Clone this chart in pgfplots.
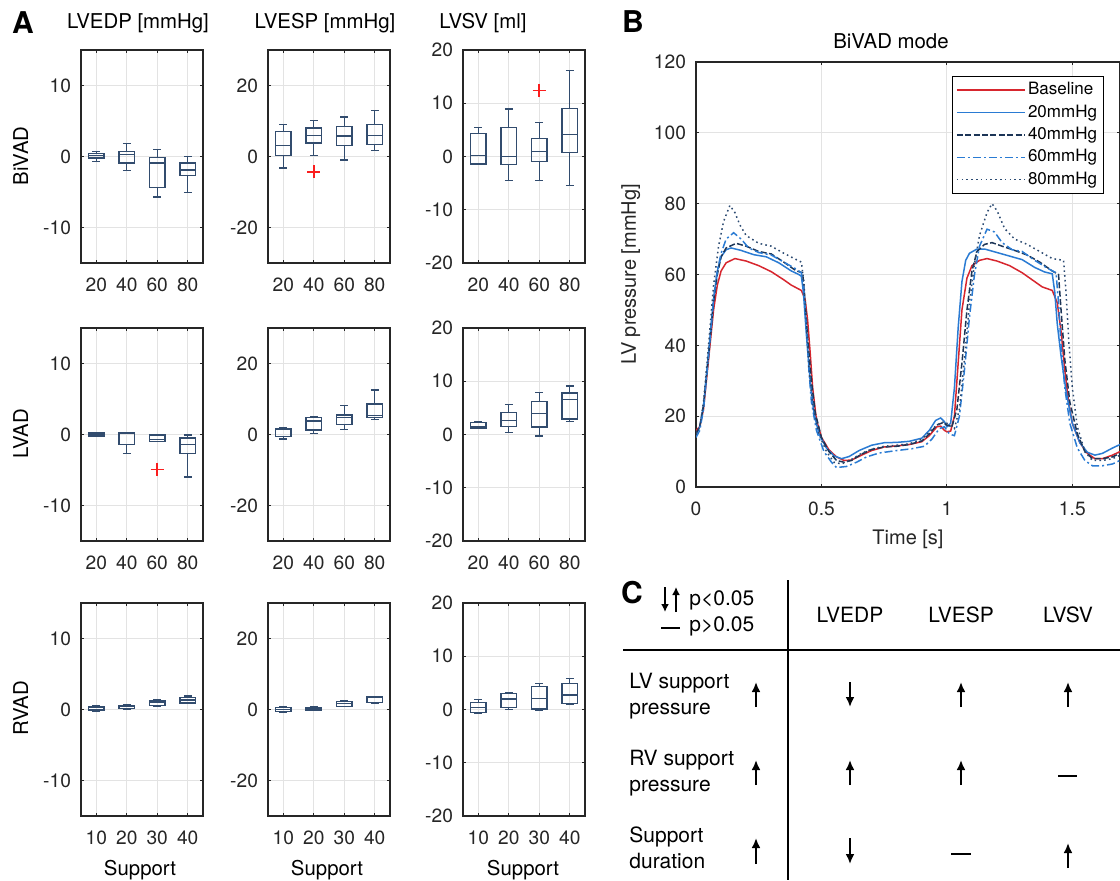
\documentclass[border=0pt]{standalone}
\usepackage{fontspec}
\setmainfont{TeX Gyre Heros}
\usepackage{pgfplots}
\pgfplotsset{compat=1.18}
\usepgfplotslibrary{statistics}
\usetikzlibrary{arrows.meta}

\definecolor{boxc}{RGB}{50,76,110}
\definecolor{outc}{RGB}{250,30,30}
\definecolor{axc}{HTML}{262626}
\definecolor{gridc}{HTML}{E3E3E3}
\definecolor{cRed}{HTML}{D7262E}
\definecolor{cBlue}{HTML}{2A7BD3}
\definecolor{cNavy}{HTML}{1C3557}
\definecolor{cNavyB}{HTML}{2C4B72}

\pgfplotsset{
  mlab/.style={
    scale only axis,
    axis line style={draw=axc, line width=0.6pt},
    tick align=inside,
    xtick pos=both, ytick pos=both,
    major tick length=1.6pt,
    tick style={draw=axc, line width=0.5pt},
    grid=major,
    major grid style={draw=gridc, line width=0.5pt},
    tick label style={font=\fontsize{9.6}{11}\selectfont, text=axc},
    /pgf/number format/assume math mode=true,
    yticklabel style={xshift=-1.5pt},
    xticklabel style={yshift=-4pt},
  },
  boxpanel/.style={
    mlab, width=61pt, height=106.5pt, anchor=north west,
    xmin=0.5, xmax=4.5, xtick={1,2,3,4},
    boxplot/draw direction=y,
    boxplot/box extend=0.5,
    boxplot/whisker extend=0.25,
  },
  outlier/.style={color=outc, only marks, mark=+, mark size=3.3pt, line width=0.8pt,
    mark options={solid, color=outc, draw=outc, fill=outc}},
}
% draw position, lower whisker, lower quartile, median, upper quartile, upper whisker
\newcommand{\bx}[6]{\addplot[draw=boxc, line width=0.65pt, solid, mark=none,
  boxplot prepared={draw position=#1, lower whisker=#2, lower quartile=#3,
  median=#4, upper quartile=#5, upper whisker=#6}] coordinates {};}

\begin{document}
\begin{tikzpicture}
\path[use as bounding box] (0,0) rectangle (560pt,-440pt);

% ---- row 1: BiVAD
\begin{axis}[boxpanel, at={(40.5pt,-25pt)}, ymin=-15, ymax=15, ytick={-10,0,10}, xticklabels={20,40,60,80}]
  \bx{1}{-0.7}{-0.2}{0.1}{0.4}{0.7}
  \bx{2}{-2.0}{-0.9}{0.3}{0.7}{1.8}
  \bx{3}{-5.7}{-4.4}{-0.9}{-0.1}{1.0}
  \bx{4}{-5.1}{-2.7}{-1.9}{-0.9}{0.0}
\end{axis}
\begin{axis}[boxpanel, at={(134pt,-25pt)}, ymin=-30, ymax=30, ytick={-20,0,20}, xticklabels={20,40,60,80}]
  \bx{1}{-3.2}{0.3}{3.1}{7.1}{9.0}
  \bx{2}{0.3}{3.8}{5.9}{8.0}{10.1}
  \bx{3}{-1.0}{3.1}{5.8}{8.5}{11.1}
  \bx{4}{1.6}{3.3}{6.0}{9.0}{13.0}
  \addplot[outlier] coordinates {(2,-4.3)};
\end{axis}
\begin{axis}[boxpanel, at={(231.5pt,-25pt)}, ymin=-20, ymax=20, ytick={-20,-10,0,10,20}, xticklabels={20,40,60,80}]
  \bx{1}{-1.4}{-1.4}{0.25}{4.3}{5.5}
  \bx{2}{-4.5}{-1.5}{0.06}{5.4}{8.9}
  \bx{3}{-4.5}{-0.9}{1.0}{3.4}{6.4}
  \bx{4}{-5.5}{0.8}{4.1}{9.0}{16.2}
  \addplot[outlier] coordinates {(3,12.4)};
\end{axis}

% ---- row 2: LVAD
\begin{axis}[boxpanel, at={(40.5pt,-164pt)}, ymin=-15, ymax=15, ytick={-10,0,10}, xticklabels={20,40,60,80}]
  \bx{1}{-0.3}{-0.2}{0.05}{0.2}{0.23}
  \bx{2}{-2.7}{-1.4}{0.15}{0.2}{0.2}
  \bx{3}{-1.0}{-1.0}{-0.7}{-0.05}{0.05}
  \bx{4}{-6.0}{-2.7}{-1.4}{-0.5}{-0.05}
  \addplot[outlier] coordinates {(3,-4.9)};
\end{axis}
\begin{axis}[boxpanel, at={(134pt,-164pt)}, ymin=-30, ymax=30, ytick={-20,0,20}, xticklabels={20,40,60,80}]
  \bx{1}{-1.3}{-0.6}{1.4}{1.7}{1.8}
  \bx{2}{0.2}{1.3}{3.8}{4.7}{4.9}
  \bx{3}{1.5}{2.8}{4.7}{5.5}{8.1}
  \bx{4}{4.3}{4.7}{5.3}{8.6}{12.5}
\end{axis}
\begin{axis}[boxpanel, at={(231.5pt,-164pt)}, ymin=-20, ymax=20, ytick={-20,-10,0,10,20}, xticklabels={20,40,60,80}]
  \bx{1}{1.1}{1.2}{1.4}{2.3}{2.5}
  \bx{2}{0.4}{1.5}{2.6}{4.1}{5.7}
  \bx{3}{-0.3}{1.4}{3.9}{6.2}{7.9}
  \bx{4}{2.5}{2.9}{6.6}{7.8}{9.1}
\end{axis}

% ---- row 3: RVAD
\begin{axis}[boxpanel, at={(40.5pt,-301.5pt)}, ymin=-15, ymax=15, ytick={-10,0,10}, xticklabels={10,20,30,40}]
  \bx{1}{-0.28}{-0.05}{0.28}{0.47}{0.56}
  \bx{2}{0.05}{0.14}{0.42}{0.6}{0.7}
  \bx{3}{0.5}{0.56}{1.0}{1.2}{1.4}
  \bx{4}{0.85}{0.9}{1.35}{1.7}{1.9}
\end{axis}
\begin{axis}[boxpanel, at={(134pt,-301.5pt)}, ymin=-30, ymax=30, ytick={-20,0,20}, xticklabels={10,20,30,40}]
  \bx{1}{-0.9}{-0.65}{0.1}{0.56}{0.84}
  \bx{2}{-0.2}{-0.1}{0.4}{0.65}{0.9}
  \bx{3}{0.75}{0.9}{1.7}{2.3}{2.6}
  \bx{4}{1.6}{2.0}{3.4}{3.6}{3.7}
\end{axis}
\begin{axis}[boxpanel, at={(231.5pt,-301.5pt)}, ymin=-20, ymax=20, ytick={-20,-10,0,10,20}, xticklabels={10,20,30,40}]
  \bx{1}{-0.8}{-0.6}{0.4}{1.3}{1.9}
  \bx{2}{0.0}{0.4}{2.0}{3.0}{3.2}
  \bx{3}{-0.25}{0.1}{2.1}{4.3}{4.9}
  \bx{4}{1.0}{1.1}{2.7}{4.9}{5.8}
\end{axis}

% ---- panel B
\begin{axis}[mlab, at={(348pt,-31pt)}, anchor=north west, width=212pt, height=212.5pt,
  xmin=0, xmax=1.69, ymin=0, ymax=120,
  xtick={0,0.5,1,1.5}, ytick={0,20,...,120},
  xlabel={Time [s]}, ylabel={LV pressure [mmHg]},
  label style={font=\fontsize{10}{12}\selectfont, text=axc},
  legend cell align=left,
  legend image code/.code={\draw[#1] (-2pt,0pt) -- (32pt,0pt);},
  legend style={at={(0.962,0.967)}, anchor=north east, draw=black, line width=0.5pt,
    fill=white, font=\fontsize{8.5}{10}\selectfont, inner xsep=2pt, inner ysep=1.5pt,
    row sep=0.6pt, nodes={inner sep=1.2pt, text height=6.4pt, text depth=1.8pt}},
  every axis plot/.append style={line width=0.75pt},
]
\addplot[cRed] coordinates {(0,16)(0.015,17)(0.03,22)(0.05,36)(0.07,50)(0.085,57)(0.1,61)(0.12,63.3)(0.155,64.5)(0.2,63.8)(0.25,62.5)(0.3,60.8)(0.35,58.5)(0.38,57)(0.42,55.5)(0.435,53)(0.445,47)(0.455,38)(0.465,28)(0.48,19)(0.5,14)(0.53,10.5)(0.56,8.5)(0.59,7.5)(0.62,7.6)(0.66,9)(0.7,10.3)(0.75,11.3)(0.8,11.6)(0.85,12)(0.9,12.8)(0.93,14.5)(0.96,17)(0.975,17.2)(0.99,16)(1.0,15.6)(1.015,15.8)(1.03,20)(1.045,35)(1.06,50)(1.08,59)(1.1,62.5)(1.13,64)(1.16,64.5)(1.2,63.8)(1.25,62.5)(1.3,60.5)(1.35,58)(1.38,56.5)(1.42,55.5)(1.44,52)(1.455,44)(1.47,33)(1.485,24)(1.5,18)(1.53,12.5)(1.56,9.5)(1.59,8)(1.62,8)(1.66,9)(1.69,10)};
\addlegendentry{Baseline}
\addplot[cBlue] coordinates {(0,15)(0.015,17)(0.03,23)(0.05,38)(0.07,53)(0.085,61)(0.1,65)(0.12,67)(0.14,67.5)(0.18,66.8)(0.23,65.6)(0.28,65)(0.33,63.3)(0.38,61)(0.41,60)(0.42,59.5)(0.428,55)(0.44,43)(0.455,30)(0.47,21)(0.49,15)(0.52,11)(0.55,8.8)(0.58,8)(0.61,8.6)(0.65,10.3)(0.7,11.8)(0.75,12.5)(0.8,12.6)(0.85,12.9)(0.9,13.8)(0.93,16)(0.955,18.8)(0.975,19.5)(0.99,18.5)(1.0,17)(1.015,18)(1.03,28)(1.045,45)(1.06,58)(1.075,64)(1.09,66)(1.12,67.2)(1.15,67.2)(1.2,66.2)(1.25,65.2)(1.3,64.2)(1.35,62)(1.39,60.7)(1.42,60.2)(1.43,55)(1.44,46)(1.455,37)(1.475,27)(1.5,18)(1.53,12.5)(1.56,9.8)(1.59,9)(1.62,9.5)(1.66,11)(1.69,12)};
\addlegendentry{20mmHg}
\addplot[cNavy, dash pattern=on 3pt off 1.2pt] coordinates {(0,15)(0.015,17)(0.03,23)(0.05,37)(0.07,52)(0.085,60)(0.1,65)(0.12,67.5)(0.16,68.8)(0.2,68)(0.25,66.5)(0.3,65.8)(0.35,63.5)(0.4,61)(0.425,60.5)(0.435,52)(0.445,42)(0.46,30)(0.475,21)(0.5,14)(0.53,10)(0.56,7.5)(0.59,7)(0.62,7.5)(0.66,9.3)(0.7,10.6)(0.75,11.3)(0.8,11.5)(0.85,12)(0.9,13)(0.93,15)(0.96,17.5)(0.985,18.2)(1.0,17.5)(1.02,17)(1.04,22)(1.06,35)(1.08,50)(1.1,61)(1.12,66.5)(1.15,68.5)(1.18,69)(1.22,68)(1.27,66.8)(1.32,65.5)(1.37,63.5)(1.42,61)(1.445,60)(1.455,50)(1.47,36)(1.49,24)(1.52,15)(1.55,10)(1.58,8)(1.62,8)(1.66,8.5)(1.69,9.5)};
\addlegendentry{40mmHg}
\addplot[cBlue, dash pattern=on 4pt off 1.5pt on 1pt off 1.5pt] coordinates {(0,14)(0.015,16)(0.03,22)(0.05,37)(0.07,53)(0.085,61)(0.1,66)(0.12,70)(0.15,71.8)(0.18,70)(0.21,67.5)(0.25,66.2)(0.3,65.5)(0.35,63.5)(0.4,61.5)(0.42,60.5)(0.43,56)(0.44,45)(0.45,33)(0.46,24)(0.48,16)(0.51,10)(0.54,7)(0.56,5.5)(0.6,5.8)(0.64,7)(0.68,8.5)(0.73,9.6)(0.8,10.3)(0.86,10.8)(0.91,11.5)(0.94,13.5)(0.97,16.5)(0.99,17)(1.01,15)(1.03,14.5)(1.05,20)(1.07,33)(1.09,48)(1.11,60)(1.13,68)(1.16,72.8)(1.19,72)(1.22,69)(1.26,67)(1.3,66.5)(1.35,64)(1.4,61.8)(1.435,60.5)(1.445,52)(1.455,40)(1.47,28)(1.49,18)(1.52,11)(1.55,7.5)(1.58,6)(1.62,6)(1.66,6.5)(1.69,7.5)};
\addlegendentry{60mmHg}
\addplot[cNavyB, dash pattern=on 0.8pt off 1.6pt] coordinates {(0,15)(0.015,17)(0.03,24)(0.05,40)(0.07,57)(0.09,68)(0.11,75)(0.135,79.5)(0.155,77.5)(0.175,74)(0.2,71)(0.25,68.8)(0.3,68)(0.35,66)(0.4,64.2)(0.42,63.5)(0.43,58)(0.44,46)(0.45,34)(0.465,23)(0.49,15)(0.52,10)(0.55,7)(0.58,6.5)(0.62,7.8)(0.66,9.5)(0.7,10.7)(0.75,11.5)(0.8,11.8)(0.85,12.2)(0.9,13.5)(0.93,15.5)(0.96,17.5)(0.99,18.5)(1.01,17.5)(1.03,16.5)(1.05,22)(1.07,36)(1.09,52)(1.11,63)(1.13,71)(1.16,77.5)(1.18,80)(1.2,78)(1.23,73)(1.27,70)(1.32,68.5)(1.37,66.5)(1.42,64.5)(1.465,64)(1.475,55)(1.485,42)(1.5,28)(1.52,17)(1.55,10)(1.58,7.5)(1.62,7.5)(1.66,8)(1.69,9)};
\addlegendentry{80mmHg}
\end{axis}

% ---- texts and panel C, in image pixels
\begin{scope}[x=0.5pt, y=-0.5pt]
  \tikzset{lab/.style={font=\bfseries\fontsize{15}{18}\selectfont, anchor=base},
    ttl/.style={font=\fontsize{10.2}{12}\selectfont, anchor=base},
    tab/.style={font=\fontsize{10.5}{12.6}\selectfont},
    arr/.style={-{Latex[length=5pt,width=4.4pt]}, line width=0.9pt}}
  \node[lab] at (23,33) {A};
  \node[lab] at (633,32) {B};
  \node[lab] at (632,603) {C};
  \node[ttl] at (138,28) {LVEDP [mmHg]};
  \node[ttl] at (325,28) {LVESP [mmHg]};
  \node[ttl] at (483,28) {LVSV [ml]};
  \node[ttl, rotate=90] at (28,156) {BiVAD};
  \node[ttl, rotate=90] at (28,434) {LVAD};
  \node[ttl, rotate=90] at (28,708) {RVAD};
  \node[ttl] at (140,875) {Support};
  \node[ttl] at (327,875) {Support};
  \node[ttl] at (523,875) {Support};
  \node[ttl] at (891,48) {BiVAD mode};

  % panel C
  \draw[line width=0.6pt] (788,580) -- (788,880);
  \draw[line width=0.6pt] (623,650) -- (1120,650);
  \draw[-{Latex[length=4pt,width=4pt]}, line width=0.9pt] (665,587) -- (665,612);
  \draw[-{Latex[length=4pt,width=4pt]}, line width=0.9pt] (676,612) -- (676,587);
  \draw[line width=0.8pt] (661,628) -- (680,628);
  \node[tab, anchor=west, inner sep=0pt] at (689,600) {p<0.05};
  \node[tab, anchor=west, inner sep=0pt] at (689,626) {p>0.05};
  \node[tab] at (850,615) {LVEDP};
  \node[tab] at (961,615) {LVESP};
  \node[tab] at (1068,615) {LVSV};
  \node[tab, anchor=base west, inner sep=0pt] at (629,688) {LV support};
  \node[tab, anchor=base west, inner sep=0pt] at (629,714) {pressure};
  \node[tab, anchor=base west, inner sep=0pt] at (629,765) {RV support};
  \node[tab, anchor=base west, inner sep=0pt] at (629,791) {pressure};
  \node[tab, anchor=base west, inner sep=0pt] at (629,842) {Support};
  \node[tab, anchor=base west, inner sep=0pt] at (629,868) {duration};
  % row 1
  \draw[arr] (756,707) -- (756,682);
  \draw[arr] (850,682) -- (850,707);
  \draw[arr] (961,707) -- (961,682);
  \draw[arr] (1068,707) -- (1068,682);
  % row 2
  \draw[arr] (756,785) -- (756,760);
  \draw[arr] (850,785) -- (850,760);
  \draw[arr] (961,785) -- (961,760);
  \draw[line width=0.8pt] (1058,776) -- (1077,776);
  % row 3
  \draw[arr] (756,864) -- (756,838);
  \draw[arr] (850,838) -- (850,864);
  \draw[line width=0.8pt] (951,854) -- (971,854);
  \draw[arr] (1068,868) -- (1068,843);
\end{scope}
\end{tikzpicture}
\end{document}
